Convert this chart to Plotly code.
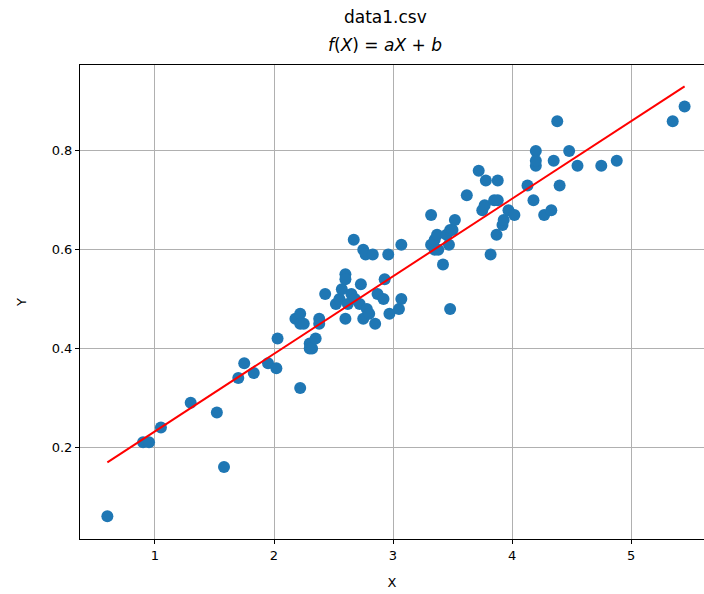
import plotly.graph_objects as go

x_vals = [0.6, 0.9, 0.95, 1.05, 1.3, 1.52, 1.58, 1.7, 1.75, 1.83, 1.95, 2.02, 2.03, 2.18, 2.22, 2.22, 2.25,
          2.22, 2.3, 2.3, 2.32, 2.35, 2.38, 2.38, 2.43, 2.52, 2.55, 2.57, 2.6, 2.6, 2.6, 2.62, 2.65, 2.67,
          2.68, 2.72, 2.73, 2.75, 2.75, 2.77, 2.78, 2.8, 2.83, 2.85, 2.87, 2.92, 2.93, 2.96, 2.97, 3.05,
          3.07, 3.07, 3.32, 3.32, 3.35, 3.35, 3.37, 3.38, 3.42, 3.45, 3.47, 3.48, 3.48, 3.5, 3.52, 3.62,
          3.72, 3.75, 3.77, 3.78, 3.82, 3.85, 3.87, 3.88, 3.88, 3.92, 3.93, 3.97, 4.02, 4.13, 4.18, 4.2,
          4.2, 4.2, 4.27, 4.33, 4.35, 4.38, 4.4, 4.48, 4.55, 4.75, 4.88, 5.35, 5.45]
y_vals = [0.06, 0.21, 0.21, 0.24, 0.29, 0.27, 0.16, 0.34, 0.37, 0.35, 0.37, 0.36, 0.42, 0.46, 0.47, 0.45, 0.45,
          0.32, 0.41, 0.40, 0.40, 0.42, 0.45, 0.46, 0.51, 0.49, 0.50, 0.52, 0.55, 0.54, 0.46, 0.49, 0.51, 0.62,
          0.50, 0.49, 0.53, 0.46, 0.60, 0.59, 0.48, 0.47, 0.59, 0.45, 0.51, 0.50, 0.54, 0.59, 0.47, 0.48,
          0.50, 0.61, 0.67, 0.61, 0.62, 0.60, 0.63, 0.60, 0.57, 0.63, 0.61, 0.64, 0.48, 0.64, 0.66, 0.71,
          0.76, 0.68, 0.69, 0.74, 0.59, 0.70, 0.63, 0.74, 0.70, 0.65, 0.66, 0.68, 0.67, 0.73, 0.70, 0.80,
          0.77, 0.78, 0.67, 0.68, 0.78, 0.86, 0.73, 0.80, 0.77, 0.77, 0.78, 0.86, 0.89]

a_coef = 0.157
b_coef = 0.075

x_ticks = [1, 2, 3, 4, 5]
y_ticks = [0.2, 0.4, 0.6, 0.8]

title_line1 = "data1.csv"
title_line2 = "<i>f</i>(<i>X</i>) = <i>aX</i> + <i>b</i>"

x_line = [min(x_vals), max(x_vals)]
y_line = [a_coef * v + b_coef for v in x_line]

fig = go.Figure()
fig.add_trace(go.Scatter(x=x_vals, y=y_vals, mode="markers",
                         marker=dict(color="#1f77b4", size=12, line=dict(width=0)),
                         showlegend=False, cliponaxis=False))
fig.add_trace(go.Scatter(x=x_line, y=y_line, mode="lines",
                         line=dict(color="red", width=2), showlegend=False))

font = dict(family="DejaVu Sans", size=13, color="black")
axis_common = dict(showgrid=True, gridcolor="#b0b0b0", gridwidth=1, zeroline=False,
                   showline=True, linecolor="black", linewidth=1,
                   ticks="outside", ticklen=4, tickcolor="black", tickfont=font)

plot_h = 594 - 65 - 55
title_font = dict(family="DejaVu Sans", size=17, color="black")
title_x = (80 + 690) / 2
plot_w = 704 - 80

fig.update_layout(
    width=704, height=594,
    margin=dict(l=80, r=0, t=65, b=55),
    plot_bgcolor="white", paper_bgcolor="white",
    font=font,
    xaxis=dict(range=[0.37, 5.613], tickvals=x_ticks, ticktext=[str(t) for t in x_ticks],
               mirror=True, title=dict(text="X", font=font, standoff=16), **axis_common),
    yaxis=dict(range=[0.014, 0.974], tickvals=y_ticks, ticktext=[f"{t:.1f}" for t in y_ticks],
               mirror=False, title=dict(text="Y", font=font, standoff=22), **axis_common),
    annotations=[
        dict(text=title_line1, xref="paper", yref="paper", x=(title_x - 80) / plot_w, y=1 + 48 / plot_h,
             xanchor="center", yanchor="middle", showarrow=False, font=title_font),
        dict(text=title_line2, xref="paper", yref="paper", x=(title_x - 80) / plot_w, y=1 + 20 / plot_h,
             xanchor="center", yanchor="middle", showarrow=False, font=title_font),
    ],
)

fig.write_html("out.html")
